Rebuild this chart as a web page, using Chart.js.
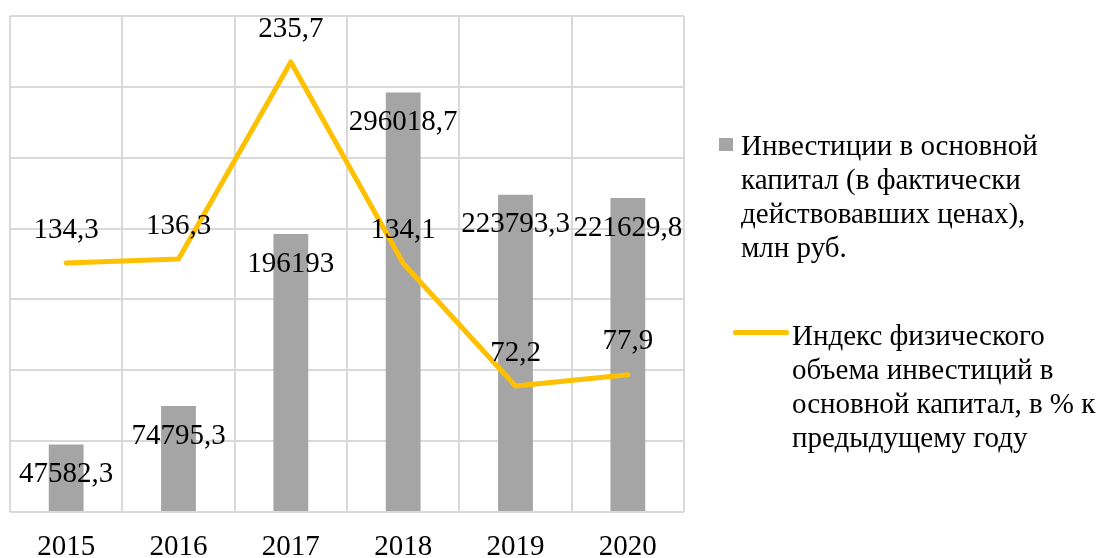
<!DOCTYPE html>
<html>
<head>
<meta charset="utf-8">
<script src="https://cdn.jsdelivr.net/npm/chart.js@4"></script>
<style>
  html, body { margin: 0; padding: 0; background: #fff; overflow: hidden; }
  #wrap { position: relative; width: 1103px; height: 558px; }
  #chart { position: absolute; left: 0; top: 0; }
  .leg { position: absolute; font-family: "Liberation Serif", "Times New Roman", serif; font-size: 29px; line-height: 34px; color: #000; white-space: nowrap; }
  .sw { position: absolute; }
</style>
</head>
<body>
<div id="wrap">
  <canvas id="chart" width="1103" height="558"></canvas>
  <div class="sw" style="left:719px; top:138px; width:14px; height:13px; background:#a5a5a5;"></div>
  <div class="leg" style="left:741px; top:128px;">Инвестиции в основной<br>капитал (в фактически<br>действовавших ценах),<br>млн руб.</div>
  <div class="sw" style="left:733px; top:330px; width:56px; height:5px; background:#ffc000; border-radius:2px;"></div>
  <div class="leg" style="left:792px; top:318px;">Индекс физического<br>объема инвестиций в<br>основной капитал, в % к<br>предыдущему году</div>
</div>
<script>
const years = ["2015", "2016", "2017", "2018", "2019", "2020"];
const investments = [47582.3, 74795.3, 196193, 296018.7, 223793.3, 221629.8];
const volumeIndex = [134.3, 136.3, 235.7, 134.1, 72.2, 77.9];

const barLabel = "Инвестиции в основной капитал (в фактически действовавших ценах), млн руб.";
const lineLabel = "Индекс физического объема инвестиций в основной капитал, в % к предыдущему году";

function fmt(v) {
  return String(v).replace(".", ",");
}

// value labels: bars under the top of the bar, line above the point
const valueLabels = {
  id: "valueLabels",
  afterDatasetsDraw(chart) {
    const ctx = chart.ctx;
    ctx.save();
    ctx.font = '29px "Liberation Serif", "Times New Roman", serif';
    ctx.fillStyle = "#000";
    ctx.textAlign = "center";
    ctx.textBaseline = "middle";
    chart.data.datasets.forEach(function (ds, i) {
      const meta = chart.getDatasetMeta(i);
      meta.data.forEach(function (el, j) {
        const off = ds.type === "line" ? -33 : 30;
        ctx.fillText(fmt(ds.data[j]), el.x, el.y + off);
      });
    });
    ctx.restore();
  }
};

new Chart(document.getElementById("chart"), {
  data: {
    labels: years,
    datasets: [
      {
        type: "line",
        label: lineLabel,
        data: volumeIndex,
        yAxisID: "y2",
        borderColor: "#ffc000",
        backgroundColor: "#ffc000",
        borderWidth: 5,
        tension: 0,
        pointRadius: 0,
        borderCapStyle: "round",
        borderJoinStyle: "round",
        order: 0
      },
      {
        type: "bar",
        label: barLabel,
        data: investments,
        yAxisID: "y",
        backgroundColor: "#a5a5a5",
        categoryPercentage: 1,
        barPercentage: 0.31,
        order: 1
      }
    ]
  },
  options: {
    responsive: false,
    animation: false,
    layout: { padding: { left: 10, right: 419, top: 16, bottom: 0 } },
    plugins: {
      legend: { display: false },
      tooltip: { enabled: false }
    },
    scales: {
      x: {
        grid: { color: "#d9d9d9", lineWidth: 2, drawTicks: false },
        border: { display: false },
        ticks: {
          color: "#000",
          padding: 18,
          font: { family: '"Liberation Serif", "Times New Roman", serif', size: 29 }
        },
        afterFit: function (s) { s.height = 46; }
      },
      y: {
        position: "left",
        min: 0,
        max: 350000,
        grid: { color: "#d9d9d9", lineWidth: 2, drawTicks: false },
        border: { display: false },
        ticks: { display: false, stepSize: 50000 },
        afterFit: function (s) { s.width = 0; }
      },
      y2: {
        position: "right",
        display: false,
        min: 8.6,
        max: 258.9
      }
    }
  },
  plugins: [valueLabels]
});
</script>
</body>
</html>
